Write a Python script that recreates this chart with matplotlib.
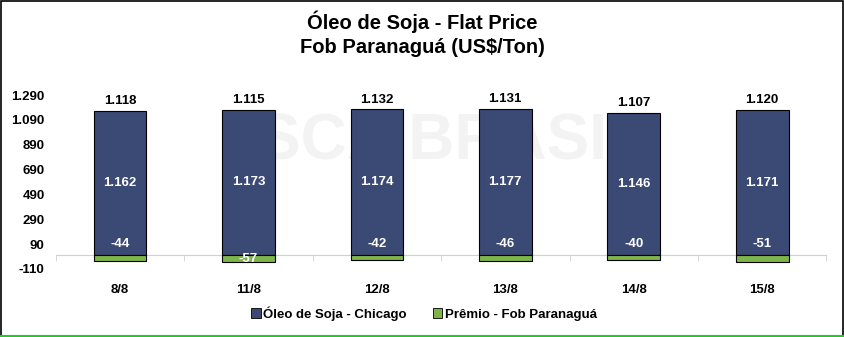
import matplotlib.pyplot as plt
from matplotlib.patches import Rectangle
from matplotlib.lines import Line2D

# data
dates = ['8/8', '11/8', '12/8', '13/8', '14/8', '15/8']
chicago = [1162, 1173, 1174, 1177, 1146, 1171]
premio = [-44, -57, -42, -46, -40, -51]
flat = [1118, 1115, 1132, 1131, 1107, 1120]

navy = '#3B4A75'
green = '#7DB54A'

def fmt(v):
    return f'{v:,}'.replace(',', '.')

plt.rcParams['font.family'] = ['Liberation Sans', 'DejaVu Sans']

fig = plt.figure(figsize=(8.45, 3.37), dpi=100)
ax = fig.add_axes([0.066, 0.202, 0.912, 0.516])

x = list(range(len(dates)))
ax.bar(x, chicago, width=0.41, color=navy, edgecolor='black', linewidth=0.8, zorder=3)
ax.bar(x, premio, width=0.41, color=green, edgecolor='black', linewidth=0.8, zorder=3)

for i in x:
    ax.text(i, chicago[i] / 2, fmt(chicago[i]), ha='center', va='center',
            color='white', fontsize=9.5, fontweight='bold', zorder=4)
    # small premiums sit above the zero line, the larger one inside its segment
    py = premio[i] / 2 if abs(premio[i]) > 55 else 90
    ax.text(i, py, fmt(premio[i]), ha='center', va='center',
            color='white', fontsize=9.5, fontweight='bold', zorder=4)
    ax.text(i, chicago[i] + 30, fmt(flat[i]), ha='center', va='bottom',
            color='black', fontsize=9.5, fontweight='bold', zorder=4, clip_on=False)

ax.set_xlim(-0.5, len(dates) - 0.5)
ax.set_ylim(-110, 1290)
yt = list(range(-110, 1291, 200))
ax.set_yticks(yt)
ax.set_yticklabels([fmt(v) for v in yt], fontsize=9.5, fontweight='bold')
ax.tick_params(axis='y', length=0, pad=8)

for s in ['top', 'right', 'left']:
    ax.spines[s].set_visible(False)
ax.spines['bottom'].set_position(('data', 0))
ax.spines['bottom'].set_color('#d0d0d0')
ax.spines['bottom'].set_zorder(2)
ax.set_xticks(x)
ax.set_xticklabels(dates, fontsize=9.5, fontweight='bold')
ax.tick_params(axis='x', which='major', length=0, pad=21)
ax.set_xticks([i - 0.5 for i in range(len(dates) + 1)], minor=True)
ax.tick_params(axis='x', which='minor', length=4, color='#d0d0d0', direction='out')

# faint watermark behind the bars
ax.text(0.546, 0.578, 'SCA BRASIL.', transform=fig.transFigure, ha='center', va='center',
        fontsize=46, fontweight='bold', color='#f3f3f3', zorder=0)

fig.text(0.5, 0.935, 'Óleo de Soja - Flat Price', ha='center', va='center',
         fontsize=14.5, fontweight='bold')
fig.text(0.5, 0.86, 'Fob Paranaguá (US$/Ton)', ha='center', va='center',
         fontsize=14.5, fontweight='bold')

handles = [Rectangle((0, 0), 1, 1, facecolor=navy, edgecolor='black', linewidth=0.6),
           Rectangle((0, 0), 1, 1, facecolor=green, edgecolor='black', linewidth=0.6)]
fig.legend(handles, ['Óleo de Soja - Chicago', 'Prêmio - Fob Paranaguá'],
           loc='center', bbox_to_anchor=(0.502, 0.07), ncol=2, frameon=False,
           prop={'size': 9.5, 'weight': 'bold'}, handlelength=0.7, handleheight=0.7,
           handletextpad=0.2, columnspacing=2.0)

# frame around the chart, green bottom edge
fig.patches.append(Rectangle((0.001, 0.004), 0.997, 0.994, transform=fig.transFigure,
                             fill=False, edgecolor='black', linewidth=1.2))
fig.lines.append(Line2D([0.001, 0.998], [0.004, 0.004], transform=fig.transFigure,
                        color='#22cc22', linewidth=1.5))

fig.savefig('out.png', dpi=100)
